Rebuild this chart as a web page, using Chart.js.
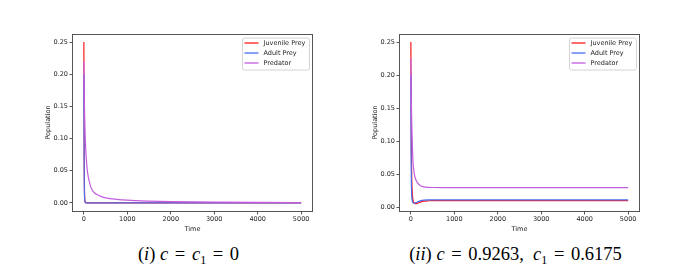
<!DOCTYPE html>
<html><head><meta charset="utf-8">
<script src="https://cdn.jsdelivr.net/npm/chart.js@4.4.1/dist/chart.umd.min.js"></script>
<style>
html,body{margin:0;padding:0;background:#fff;width:674px;height:268px;overflow:hidden;position:relative;}
canvas{position:absolute;top:0;}
#c1{left:0} #c2{left:337px}
.cap{position:absolute;top:243px;font-family:"Liberation Serif","Times New Roman",serif;font-size:18.5px;line-height:22px;color:#000;white-space:nowrap;transform:translateX(-50%);}
.cap sub{font-size:12px;vertical-align:-4px;line-height:0}
.cap .eq{margin:0 2px}
</style></head><body>
<canvas id="c1" width="337" height="240"></canvas>
<canvas id="c2" width="337" height="240"></canvas>
<div class="cap" style="left:188.5px">(<i>i</i>) <i>c</i> <span class="eq">=</span> <i>c</i><sub>1</sub> <span class="eq">=</span> 0</div>
<div class="cap" style="left:515.5px">(<i>ii</i>) <i>c</i> <span class="eq">=</span> 0.9263,&nbsp; <i>c</i><sub>1</sub> <span class="eq">=</span> 0.6175</div>
<script>
// ---- data ----
const times = [0, 5, 10, 15, 20, 30, 40, 50, 75, 100, 150, 200, 250, 300, 400, 500, 750, 1000, 1500, 2000, 2500, 3000, 4000, 5000];
const seriesNames = ['Juvenile Prey', 'Adult Prey', 'Predator'];
// (i) c = c1 = 0
const juvenileA = [0.25, 0.11, 0.045, 0.018, 0.007, 0.002, 0.0007, 0.0003, 0.0001, 0.00005, 0, 0, 0, 0, 0, 0, 0, 0, 0, 0, 0, 0, 0, 0];
const adultA    = [0.20, 0.08, 0.03, 0.011, 0.004, 0.0012, 0.0004, 0.0002, 0.0001, 0.00005, 0, 0, 0, 0, 0, 0, 0, 0, 0, 0, 0, 0, 0, 0];
const predatorA = [0.22, 0.19, 0.165, 0.145, 0.13, 0.105, 0.088, 0.075, 0.053, 0.041, 0.027, 0.019, 0.0155, 0.013, 0.0098, 0.008, 0.0057, 0.0043, 0.0029, 0.0021, 0.0016, 0.0013, 0.0009, 0.0007];
// (ii) c = 0.9263, c1 = 0.6175
const juvenileB = [0.25, 0.16, 0.10, 0.065, 0.045, 0.025, 0.015, 0.010, 0.0062, 0.0053, 0.0056, 0.0068, 0.0081, 0.0089, 0.0095, 0.0097, 0.0097, 0.0097, 0.0097, 0.0097, 0.0097, 0.0097, 0.0097, 0.0097];
const adultB    = [0.20, 0.09, 0.045, 0.026, 0.017, 0.010, 0.0075, 0.0065, 0.006, 0.0062, 0.0075, 0.009, 0.010, 0.0105, 0.0108, 0.0108, 0.0108, 0.0108, 0.0108, 0.0108, 0.0108, 0.0108, 0.0108, 0.0108];
const predatorB = [0.225, 0.19, 0.165, 0.145, 0.128, 0.103, 0.083, 0.068, 0.052, 0.044, 0.037, 0.0335, 0.0315, 0.0305, 0.0298, 0.0296, 0.0295, 0.0295, 0.0295, 0.0295, 0.0295, 0.0295, 0.0295, 0.0295];
const xTicks = [0, 1000, 2000, 3000, 4000, 5000];
const yTicks = [0, 0.05, 0.10, 0.15, 0.20, 0.25];
const xLimits = [-250, 5250];
const yLimitsA = [-0.0125, 0.2625];
const yLimitsB = [-0.006, 0.2622];

const colors = ['#ff1a1a', '#4a6cf0', '#c45ce0'];
Chart.defaults.font.family = '"DejaVu Sans", sans-serif';
Chart.defaults.font.size = 6.5;
Chart.defaults.color = '#222';

const framePlugin = {
  id: 'frame',
  afterDraw(chart) {
    const {ctx, chartArea: a} = chart;
    ctx.save();
    ctx.strokeStyle = '#555';
    ctx.lineWidth = 1;
    ctx.strokeRect(a.left - 0.5, a.top + 0.5, a.right - a.left + 1, a.bottom - a.top);
    ctx.restore();
  }
};
const legendPlugin = {
  id: 'mplLegend',
  afterDraw(chart) {
    const {ctx, chartArea: a} = chart;
    const w = 67, h = 32;
    const x0 = a.right - 3 - w, y0 = a.top + 3.5;
    ctx.save();
    ctx.beginPath();
    if (ctx.roundRect) ctx.roundRect(x0 + 0.5, y0 + 0.5, w, h, 2); else ctx.rect(x0 + 0.5, y0 + 0.5, w, h);
    ctx.fillStyle = 'rgba(255,255,255,0.85)';
    ctx.fill();
    ctx.strokeStyle = '#d4d4d4';
    ctx.lineWidth = 1;
    ctx.stroke();
    ctx.font = '6.5px "DejaVu Sans", sans-serif';
    ctx.textBaseline = 'middle';
    ctx.textAlign = 'left';
    chart.data.datasets.forEach((ds, i) => {
      const y = y0 + 5.5 + i * 10;
      ctx.beginPath();
      ctx.moveTo(x0 + 2.5, y);
      ctx.lineTo(x0 + 16.5, y);
      ctx.strokeStyle = ds.borderColor;
      ctx.lineWidth = 1.3;
      ctx.stroke();
      ctx.fillStyle = '#222';
      ctx.fillText(ds.label, x0 + 21.5, y);
    });
    ctx.restore();
  }
};

function makeChart(id, seriesList, yLim, padLeft, padRight) {
  const datasets = seriesList.map((arr, i) => ({
    label: seriesNames[i],
    data: times.map((t, j) => ({x: t, y: arr[j]})),
    borderColor: colors[i],
    backgroundColor: colors[i],
    borderWidth: 1.2,
    pointRadius: 0,
    fill: false,
    cubicInterpolationMode: 'monotone',
    order: 3 - i
  }));
  return new Chart(document.getElementById(id), {
    type: 'line',
    data: {datasets},
    options: {
      responsive: false,
      animation: false,
      devicePixelRatio: 1,
      layout: {padding: {left: padLeft, right: padRight, top: 34, bottom: 7}},
      plugins: {legend: {display: false}, tooltip: {enabled: false}},
      scales: {
        x: {
          type: 'linear', min: xLimits[0], max: xLimits[1],
          afterBuildTicks: s => { s.ticks = xTicks.map(v => ({value: v})); },
          afterFit: s => { s.height = 22; },
          ticks: {padding: 1, maxRotation: 0, autoSkip: false, callback: v => String(v)},
          grid: {drawOnChartArea: false, drawTicks: true, tickLength: 3.5, color: '#555'},
          border: {display: false},
          title: {display: true, text: 'Time', padding: 0}
        },
        y: {
          type: 'linear', min: yLim[0], max: yLim[1],
          afterBuildTicks: s => { s.ticks = yTicks.map(v => ({value: v})); },
          afterFit: s => { s.width = 29; },
          ticks: {padding: 1.5, autoSkip: false, callback: v => Number(v).toFixed(2)},
          grid: {drawOnChartArea: false, drawTicks: true, tickLength: 3.5, color: '#555'},
          border: {display: false},
          title: {display: true, text: 'Population', padding: 0}
        }
      }
    },
    plugins: [framePlugin, legendPlugin]
  });
}

makeChart('c1', [juvenileA, adultA, predatorA], yLimitsA, 44, 25);
makeChart('c2', [juvenileB, adultB, predatorB], yLimitsB, 34, 35);
</script>
</body></html>
